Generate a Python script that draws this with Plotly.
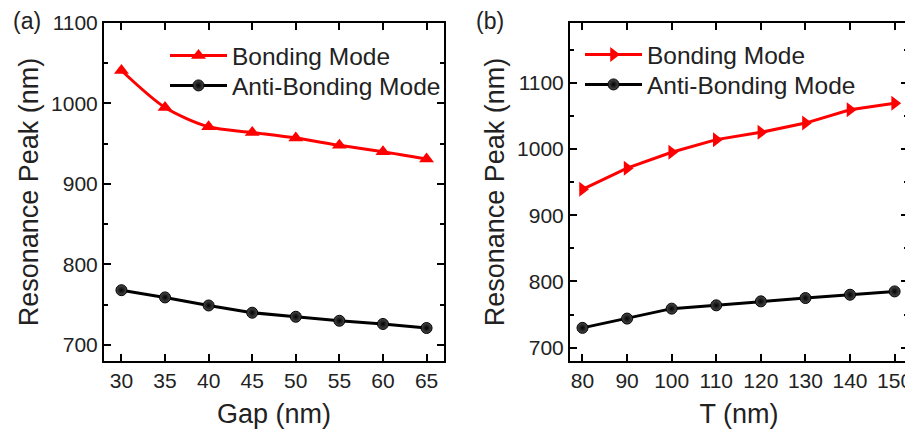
import plotly.graph_objects as go

gap = [30, 35, 40, 45, 50, 55, 60, 65]
gap_bonding = [1041, 995, 971, 964, 957, 948, 940, 931]
gap_anti = [768, 759, 749, 740, 735, 730, 726, 721]

thick = [80, 90, 100, 110, 120, 130, 140, 150]
t_bonding = [939, 971, 995, 1014, 1025, 1039, 1059, 1069]
t_anti = [730, 744, 759, 764, 770, 775, 780, 785]

FONT = "Liberation Sans, Arial, sans-serif"
RED = "#ff0000"
BLACK = "#000000"
TXT = "#222222"

fig = go.Figure()

anti_marker = dict(symbol="circle", size=11, color="#4a4a4a",
                   gradient=dict(type="radial", color="#000000"),
                   line=dict(color="#000000", width=1))

fig.add_trace(go.Scatter(x=gap, y=gap_bonding, mode="lines+markers", name="Bonding Mode",
                         line=dict(color=RED, width=3, shape="spline", smoothing=0.8),
                         marker=dict(symbol="triangle-up", size=13, color=RED),
                         xaxis="x", yaxis="y", legend="legend"))
fig.add_trace(go.Scatter(x=gap, y=gap_anti, mode="lines+markers", name="Anti-Bonding Mode",
                         line=dict(color=BLACK, width=3),
                         marker=anti_marker,
                         xaxis="x", yaxis="y", legend="legend2"))
fig.add_trace(go.Scatter(x=thick, y=t_bonding, mode="lines+markers", name="Bonding Mode",
                         line=dict(color=RED, width=3),
                         marker=dict(symbol="triangle-right", size=13, color=RED),
                         xaxis="x2", yaxis="y2", legend="legend3"))
fig.add_trace(go.Scatter(x=thick, y=t_anti, mode="lines+markers", name="Anti-Bonding Mode",
                         line=dict(color=BLACK, width=3),
                         marker=anti_marker,
                         xaxis="x2", yaxis="y2", legend="legend4"))

# page is offset by the 8px body margin, so work in page coords minus 8
OFF = 8
W, H = 913 - OFF, 434 - OFF

def px(v):
    return (v - OFF) / W

def py(v):
    return 1 - (v - OFF) / H

def ax(**kw):
    d = dict(showline=True, linecolor="black", linewidth=2, mirror="allticks",
             ticks="inside", ticklen=7, tickwidth=2, tickcolor="black",
             showgrid=False, zeroline=False, automargin=False,
             tickfont=dict(family=FONT, size=21, color=TXT),
             title_font=dict(family=FONT, size=27, color=TXT))
    d.update(kw)
    return d

def leg(x, y):
    return dict(x=px(x), y=py(y), xanchor="left", yanchor="top",
                bgcolor="rgba(0,0,0,0)", itemwidth=57,
                font=dict(family=FONT, size=24.5, color=TXT))

ydom = [py(361), py(23)]
minor_y = dict(dtick=50, ticks="inside", ticklen=4, tickwidth=2, tickcolor="black")
fig.update_layout(
    width=W, height=H,
    margin=dict(l=0, r=0, t=0, b=0, autoexpand=False),
    paper_bgcolor="white", plot_bgcolor="white",
    font=dict(family=FONT, color=TXT),
    xaxis=ax(domain=[px(104), px(444)], range=[28, 67], tickvals=gap,
             title=dict(text="Gap (nm)", standoff=13), anchor="y"),
    yaxis=ax(domain=ydom, range=[680, 1100], dtick=100, tick0=700, minor=minor_y,
             title=dict(text="Resonance Peak (nm)", standoff=5), anchor="x"),
    xaxis2=ax(domain=[px(570), px(908)], range=[77.2, 153], tickvals=thick,
              title=dict(text="T (nm)", standoff=13), anchor="y2"),
    yaxis2=ax(domain=ydom, range=[680, 1190], dtick=100, tick0=700, minor=minor_y,
              title=dict(text="Resonance Peak (nm)", standoff=5), anchor="x2"),
    legend=leg(165, 33),
    legend2=leg(165, 63),
    legend3=leg(580, 32),
    legend4=leg(580, 62),
    showlegend=True,
    annotations=[
        dict(text="(a)", x=px(27), y=py(21), xref="paper", yref="paper",
             xanchor="center", yanchor="middle",
             showarrow=False, font=dict(family=FONT, size=23, color=TXT)),
        dict(text="(b)", x=px(490), y=py(21), xref="paper", yref="paper",
             xanchor="center", yanchor="middle",
             showarrow=False, font=dict(family=FONT, size=23, color=TXT)),
    ],
)

fig.write_html("out.html")
